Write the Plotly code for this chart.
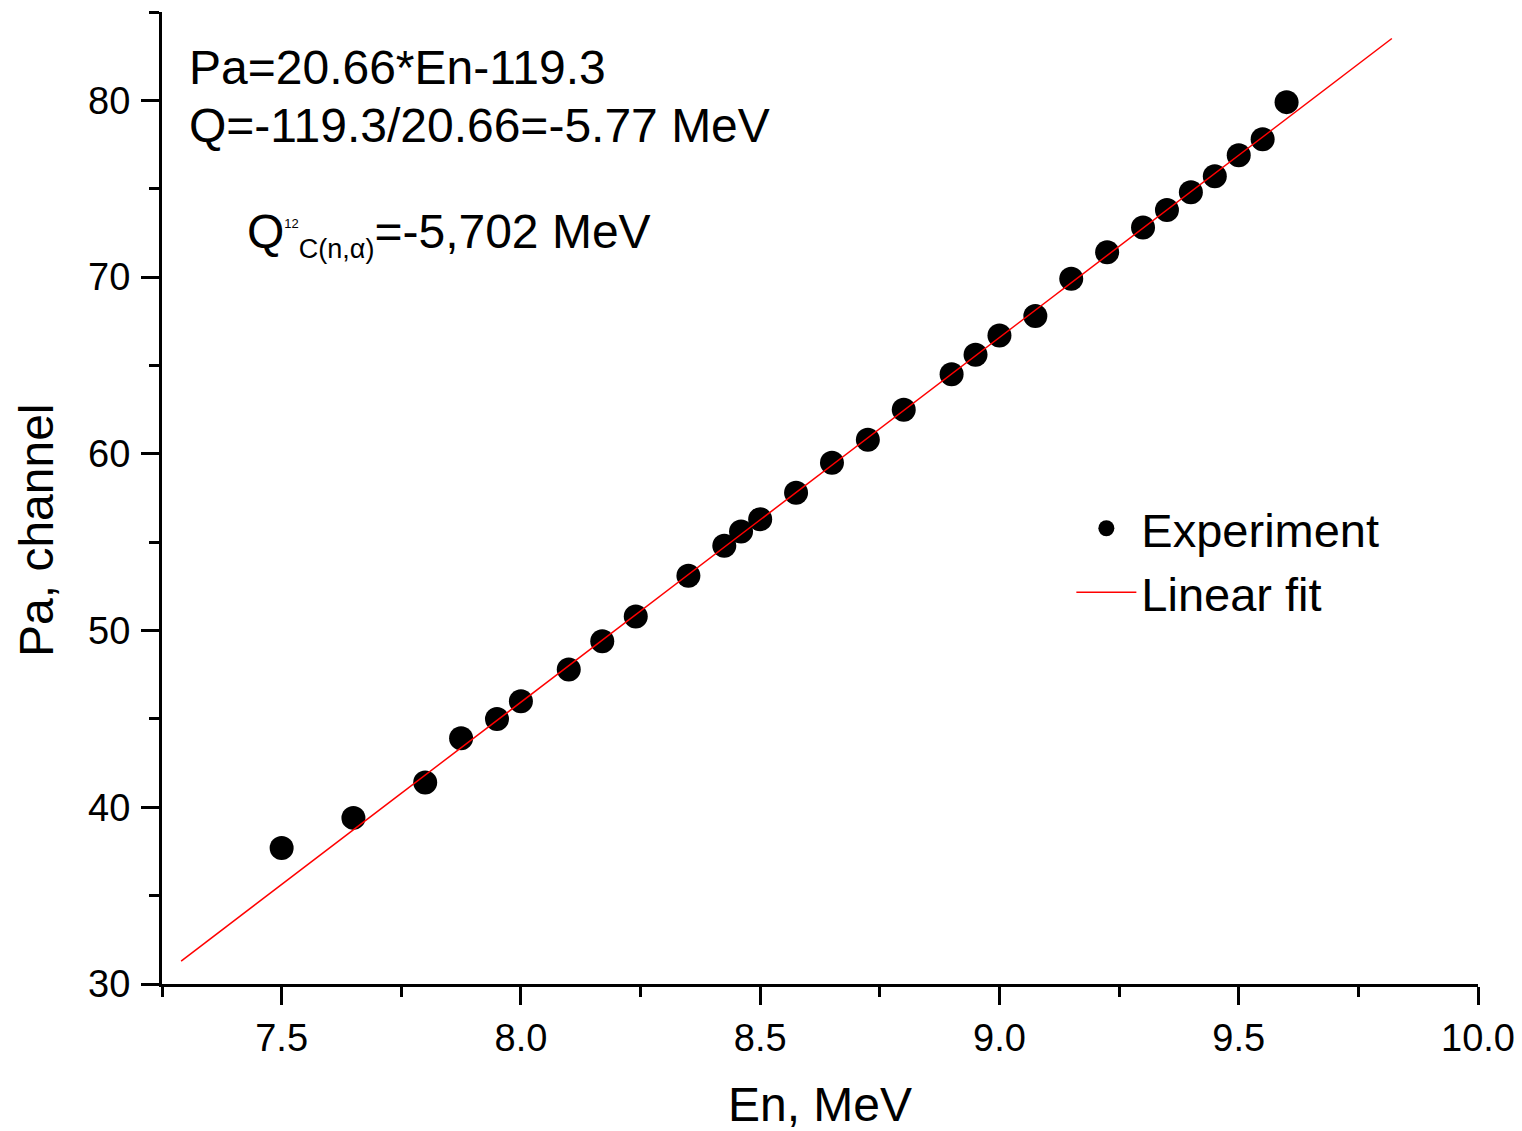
import plotly.graph_objects as go

en_mev = [7.50, 7.65, 7.80, 7.875, 7.95, 8.00, 8.10, 8.17, 8.24, 8.35,
          8.425, 8.46, 8.50, 8.575, 8.65, 8.725, 8.80, 8.90, 8.95, 9.00,
          9.075, 9.15, 9.225, 9.30, 9.35, 9.40, 9.45, 9.50, 9.55, 9.60]
pa_channel = [37.7, 39.4, 41.4, 43.9, 45.0, 46.0, 47.8, 49.4, 50.8, 53.1,
              54.8, 55.6, 56.3, 57.8, 59.5, 60.8, 62.5, 64.5, 65.6, 66.7,
              67.8, 69.9, 71.4, 72.8, 73.8, 74.8, 75.7, 76.9, 77.8, 79.9]

# Linear fit line end points
fit_en = [7.29, 9.82]
fit_pa = [31.3, 83.5]

FONT = "Liberation Sans, Arial, sans-serif"

fig = go.Figure()
fig.add_trace(go.Scatter(
    x=en_mev, y=pa_channel, mode="markers", name="Experiment",
    marker=dict(color="black", size=24, line=dict(width=0)),
))
fig.add_trace(go.Scatter(
    x=fit_en, y=fit_pa, mode="lines", name="Linear fit",
    line=dict(color="red", width=1.5),
))

axis_common = dict(
    showline=True, linecolor="black", linewidth=3,
    ticks="outside", ticklen=18, tickwidth=3, tickcolor="black",
    showgrid=False, zeroline=False, mirror=False, automargin=False,
    tickfont=dict(family=FONT, size=38, color="black"),
)

fig.update_xaxes(
    range=[7.25, 10.0], tick0=0, dtick=0.5, tickformat=".1f",
    minor=dict(dtick=0.25, ticks="outside", ticklen=10, tickwidth=3, tickcolor="black", showgrid=False),
    title=dict(text="En, MeV", font=dict(family=FONT, size=48, color="black"), standoff=30),
    **axis_common,
)
fig.update_yaxes(
    range=[30, 85], tick0=0, dtick=10, ticklabelstandoff=3,
    minor=dict(dtick=5, ticks="outside", ticklen=10, tickwidth=3, tickcolor="black", showgrid=False),
    **axis_common,
)

ann_font = dict(family=FONT, size=48, color="black")
# y-axis title (placed lower than the axis centre, as in the reference)
fig.add_annotation(text="Pa, channel", xref="paper", yref="paper",
                   x=(36 - 162) / 1316, y=(984 - 530) / 972, xanchor="center", yanchor="middle",
                   textangle=-90, showarrow=False, font=ann_font)
fig.add_annotation(text="Pa=20.66*En-119.3", xref="paper", yref="paper",
                   x=0.019, y=(984 - 67) / 972, xanchor="left", yanchor="middle",
                   showarrow=False, font=ann_font)
fig.add_annotation(text="Q=-119.3/20.66=-5.77 MeV", xref="paper", yref="paper",
                   x=0.019, y=(984 - 125) / 972, xanchor="left", yanchor="middle",
                   showarrow=False, font=ann_font)
fig.add_annotation(
    text="Q<sup><span style='font-size:13px'>12</span></sup><sub><span style='font-size:27px'>C(n,α)</span></sub>=-5,702 MeV",
    xref="paper", yref="paper",
    x=(245 - 162) / 1316, y=(984 - 234) / 972, xanchor="left", yanchor="middle",
    showarrow=False, font=ann_font)

fig.update_layout(
    width=1522, height=1131,
    margin=dict(l=162, r=44, t=12, b=147, autoexpand=False),
    paper_bgcolor="white", plot_bgcolor="white",
    showlegend=True,
    legend=dict(x=0.691, y=0.507, xanchor="left", yanchor="top",
                font=dict(family=FONT, size=47, color="black"),
                bgcolor="rgba(0,0,0,0)", itemwidth=60, tracegroupgap=0),
    font=dict(family=FONT, color="black"),
)

fig.write_html("out.html")
